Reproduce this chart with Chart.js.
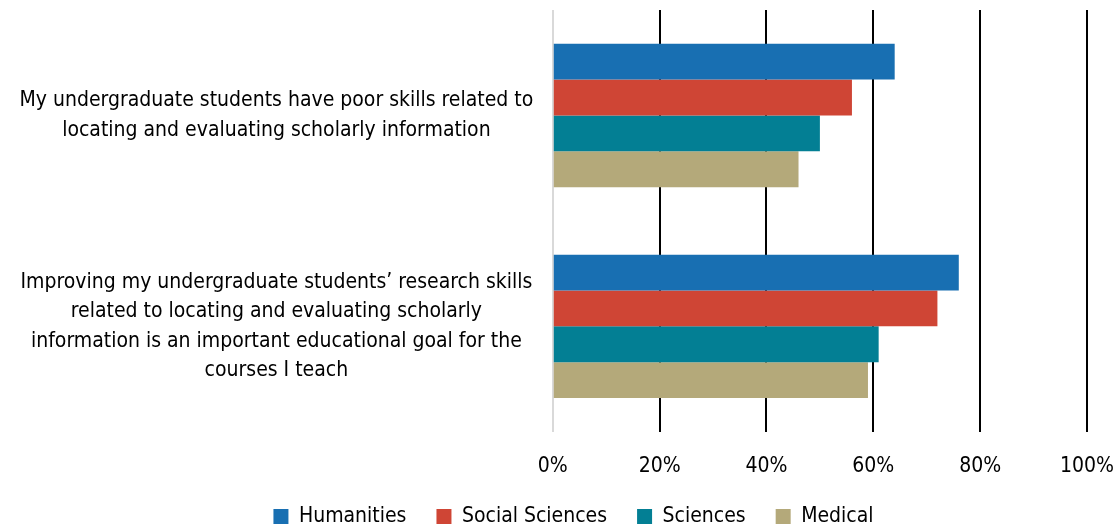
<!DOCTYPE html>
<html>
<head>
<meta charset="utf-8">
<script src="https://cdn.jsdelivr.net/npm/chart.js@4.4.1/dist/chart.umd.min.js"></script>
<style>
  html, body { margin: 0; padding: 0; background: #fff; }
  #wrap { width: 1119px; height: 529px; }
</style>
</head>
<body>
<div id="wrap"><canvas id="surveyChart"></canvas></div>
<script>
// categories (already wrapped into lines like the original)
const categories = [
    ['My undergraduate students have poor skills related to', 'locating and evaluating scholarly information'],
    ['Improving my undergraduate students\u2019 research skills', 'related to locating and evaluating scholarly', 'information is an important educational goal for the', 'courses I teach']
];
const seriesNames = ['Humanities', 'Social Sciences', 'Sciences', 'Medical'];
const humanities = [64, 76];
const socialSciences = [56, 72];
const sciences = [50, 61];
const medical = [46, 59];
const tickValues = [0, 20, 40, 60, 80, 100];

const colors = ['#186fb2', '#cf4535', '#037f94', '#b4a97a'];
const fontFamily = "'Liberation Sans Narrow', 'Arial Narrow', 'DejaVu Sans Condensed', sans-serif";

const ctx = document.getElementById('surveyChart').getContext('2d');

// nudge the legend a bit to the right, like the original
const legendShift = {
    id: 'legendShift',
    afterLayout: function(chart) {
        if (chart.legend) {
            chart.legend.left += 14;
            chart.legend.right += 14;
        }
    }
};

new Chart(ctx, {
    type: 'bar',
    data: {
        labels: categories,
        datasets: [humanities, socialSciences, sciences, medical].map(function(vals, i) {
            return {
                label: seriesNames[i],
                data: vals,
                backgroundColor: colors[i],
                borderWidth: 0,
                categoryPercentage: 0.68,
                barPercentage: 1.0
            };
        })
    },
    plugins: [legendShift],
    options: {
        indexAxis: 'y',
        responsive: true,
        maintainAspectRatio: false,
        animation: false,
        layout: { padding: { top: 10, right: 0, left: 0, bottom: -8 } },
        plugins: {
            legend: {
                position: 'bottom',
                labels: {
                    boxWidth: 15,
                    boxHeight: 15,
                    padding: 30,
                    color: '#000',
                    font: { family: fontFamily, size: 21 }
                }
            },
            tooltip: { enabled: false }
        },
        scales: {
            x: {
                min: 0,
                max: 100,
                afterBuildTicks: function(axis) {
                    axis.ticks = tickValues.map(function(v) { return { value: v }; });
                },
                // pull the plot closer to the legend
                afterFit: function(s) { s.paddingRight = 32; s.height -= 25; },
                border: { display: false },
                grid: {
                    drawTicks: false,
                    lineWidth: 2,
                    color: function(c) { return c.tick && c.tick.value === 0 ? '#d9d9d9' : '#000'; }
                },
                ticks: {
                    padding: 22,
                    color: '#000',
                    font: { family: fontFamily, size: 21 },
                    callback: function(v) { return v + '%'; }
                }
            },
            y: {
                // the 4-line label would otherwise push the plot down
                afterFit: function(s) { s.paddingTop = 0; s.paddingBottom = 0; },
                border: { display: false },
                grid: { display: false, drawTicks: false },
                ticks: {
                    crossAlign: 'center',
                    padding: 19.5,
                    color: '#000',
                    font: { family: fontFamily, size: 21, lineHeight: 1.4 }
                }
            }
        }
    }
});
</script>
</body>
</html>
